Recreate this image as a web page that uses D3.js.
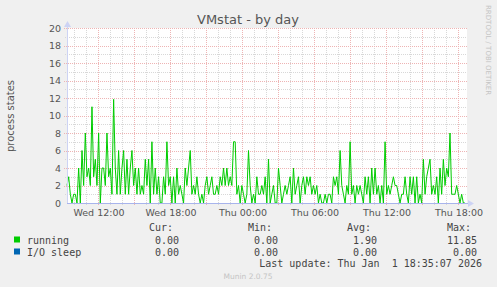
<!DOCTYPE html>
<html>
<head>
<meta charset="utf-8">
<script src="https://cdn.jsdelivr.net/npm/d3@7"></script>
<style>
  html, body { margin: 0; padding: 0; background: #f0f0f0; }
  svg { display: block; }
</style>
</head>
<body>
<svg id="chart" width="497" height="287"></svg>
<script>
// Munin vmstat, day view. Samples, evenly spaced in time.
var startTime = new Date(2025, 11, 31, 9, 25);
var endTime = new Date(2026, 0, 1, 18, 35);

var running = [
  2,3,1,0,1,1,0,4,0,6,2,8,3,4,2,11,3,5,2,8,0,4,4,2,8,3,4,1,11.85,4,1,6,1,4,6,1,5,1,4,6,
  2,4,1,4,1,2,1,5,2,5,0,7,1,4,1,3,0,0,3,1,7,2,3,0,3,0,4,1,2,1,0,4,2,4,6,1,2,1,3,1,
  0,1,0,2,3,1,2,3,1,1,2,1,3,2,4,2,4,2,3,2,7,7,1,2,0,2,1,0,1,6,2,0,1,0,3,1,
  1,2,1,3,0,5,0,1,2,0,0,4,2,0,1,2,1,2,3,0,4,1,2,3,0,2,3,1,3,2,3,1,2,1,2,0,1,0,0,1,
  0,1,1,0,3,2,3,1,6,2,1,0,2,1,7,1,2,0,2,1,2,1,0,3,1,3,0,4,1,4,1,2,0,2,0,7,1,2,1,2,
  3,2,2,1,0,1,1,3,1,0,3,1,3,0,3,0,1,0,5,1,3,4,5,1,2,1,3,0,4,1,5,2,4,3,8,1,1,1,2,1,
  0,1,0,0
];
var ioSleep = running.map(function () { return 0; });

var yTicks = [0, 2, 4, 6, 8, 10, 12, 14, 16, 18, 20];
var legendRows = [
  { name: 'running', color: '#00cc00', cur: '0.00', min: '0.00', avg: '1.90', max: '11.85' },
  { name: 'I/O sleep', color: '#0066b3', cur: '0.00', min: '0.00', avg: '0.00', max: '0.00' }
];
var legendHeads = ['Cur:', 'Min:', 'Avg:', 'Max:'];

(function () {
    var svg = d3.select('#chart');
    var left = 67, right = 467, top = 28, bottom = 203;

    var x = d3.scaleTime()
        .domain([new Date(2025, 11, 31, 9, 25), new Date(2026, 0, 1, 18, 45)])
        .range([left, right]);
    var y = d3.scaleLinear().domain([0, 20]).range([bottom, top]);

    var step = (endTime - startTime) / (running.length - 1);
    function pts(arr) {
        return arr.map(function (v, i) { return { t: new Date(+startTime + i * step), v: v }; });
    }

    // plot canvas
    svg.append('rect').attr('x', left).attr('y', top)
        .attr('width', right - left).attr('height', bottom - top).attr('fill', '#fff');

    var grid = svg.append('g').attr('shape-rendering', 'crispEdges');
    var minorT = x.ticks(d3.timeHour.every(1));
    var majorT = x.ticks(d3.timeHour.every(3));
    var labelT = x.ticks(d3.timeHour.every(6));

    // minor grid
    grid.selectAll('line.vmin').data(minorT).join('line')
        .attr('x1', function (d) { return Math.round(x(d)) + 0.5; })
        .attr('x2', function (d) { return Math.round(x(d)) + 0.5; })
        .attr('y1', top).attr('y2', bottom + 2)
        .attr('stroke', '#d8d8d8').attr('stroke-dasharray', '1,1');
    grid.selectAll('line.hmin').data(d3.range(1, 20, 2)).join('line')
        .attr('x1', left - 2).attr('x2', right)
        .attr('y1', function (d) { return Math.round(y(d)) + 0.5; })
        .attr('y2', function (d) { return Math.round(y(d)) + 0.5; })
        .attr('stroke', '#d8d8d8').attr('stroke-dasharray', '1,1');

    // major grid
    grid.selectAll('line.vmaj').data(majorT).join('line')
        .attr('x1', function (d) { return Math.round(x(d)) + 0.5; })
        .attr('x2', function (d) { return Math.round(x(d)) + 0.5; })
        .attr('y1', top).attr('y2', bottom + 3)
        .attr('stroke', '#eeb4b4').attr('stroke-dasharray', '1,1');
    grid.selectAll('line.hmaj').data(yTicks.slice(1)).join('line')
        .attr('x1', left - 3).attr('x2', right)
        .attr('y1', function (d) { return Math.round(y(d)) + 0.5; })
        .attr('y2', function (d) { return Math.round(y(d)) + 0.5; })
        .attr('stroke', '#eeb4b4').attr('stroke-dasharray', '1,1');

    // series
    var line = d3.line()
        .x(function (d) { return x(d.t); })
        .y(function (d) { return y(d.v); });
    svg.append('path').datum(pts(running))
        .attr('d', line).attr('fill', 'none')
        .attr('stroke', '#00cc00').attr('stroke-width', 1);

    // axes
    var axisCol = '#a8b4ec';
    svg.append('path').datum(pts(ioSleep))
        .attr('d', line).attr('fill', 'none')
        .attr('stroke', axisCol).attr('stroke-width', 1)
        .attr('shape-rendering', 'crispEdges');
    svg.append('line').attr('x1', left).attr('x2', 470)
        .attr('y1', bottom + 0.5).attr('y2', bottom + 0.5)
        .attr('stroke', axisCol).attr('shape-rendering', 'crispEdges');
    svg.append('line').attr('x1', left + 0.5).attr('x2', left + 0.5)
        .attr('y1', bottom).attr('y2', 24)
        .attr('stroke', '#cdd3f4').attr('shape-rendering', 'crispEdges');
    svg.append('path').attr('d', 'M468,200 L474,203.5 L468,207 Z').attr('fill', '#cdd3f4');
    svg.append('path').attr('d', 'M64,27 L67.5,21 L71,27 Z').attr('fill', '#cdd3f4');

    // tick labels
    svg.append('g').selectAll('text').data(yTicks).join('text')
        .attr('x', 61).attr('y', function (d) { return y(d) + 3.5; })
        .attr('text-anchor', 'end')
        .attr('font-family', 'DejaVu Sans').attr('font-size', 9.5).attr('fill', '#555')
        .text(function (d) { return d; });

    var fmt = d3.timeFormat('%a %H:%M');
    svg.append('g').selectAll('text').data(labelT).join('text')
        .attr('x', function (d) { return x(d) + 1; }).attr('y', 216)
        .attr('text-anchor', 'middle')
        .attr('font-family', 'DejaVu Sans').attr('font-size', 9.5).attr('fill', '#555')
        .text(function (d) { return fmt(d); });

    // title & side texts
    svg.append('text').attr('x', 248).attr('y', 24).attr('text-anchor', 'middle')
        .attr('font-family', 'DejaVu Sans').attr('font-size', 13).attr('fill', '#555')
        .text('VMstat - by day');
    svg.append('text').attr('transform', 'translate(14,116) rotate(-90)')
        .attr('text-anchor', 'middle')
        .attr('font-family', 'DejaVu Sans').attr('font-size', 10).attr('fill', '#555')
        .text('process states');
    svg.append('text').attr('transform', 'translate(486,5) rotate(90)')
        .attr('font-family', 'DejaVu Sans').attr('font-size', 7).attr('fill', '#c4c4c4')
        .text('RRDTOOL / TOBI OETIKER');

    // legend
    var mono = 'DejaVu Sans Mono';
    var colEnd = [179, 278, 377, 477];
    var lg = svg.append('g').attr('font-family', mono).attr('font-size', 10).attr('fill', '#444');
    lg.selectAll('text.head').data(legendHeads).join('text')
        .attr('x', function (d, i) { return colEnd[i] - 6; }).attr('y', 230.5)
        .attr('text-anchor', 'end').text(function (d) { return d; });

    var row = lg.selectAll('g.row').data(legendRows).join('g')
        .attr('transform', function (d, i) { return 'translate(0,' + (243.5 + i * 12) + ')'; });
    row.append('rect').attr('x', 14).attr('y', -7).attr('width', 6).attr('height', 6)
        .attr('fill', function (d) { return d.color; });
    row.append('text').attr('x', 27).text(function (d) { return d.name; });
    ['cur', 'min', 'avg', 'max'].forEach(function (k, i) {
        row.append('text').attr('x', colEnd[i]).attr('text-anchor', 'end')
            .text(function (d) { return d[k]; });
    });

    lg.append('text').attr('x', 482).attr('y', 267).attr('text-anchor', 'end')
        .attr('xml:space', 'preserve')
        .text('Last update: Thu Jan  1 18:35:07 2026');

    svg.append('text').attr('x', 248).attr('y', 279).attr('text-anchor', 'middle')
        .attr('font-family', 'DejaVu Sans').attr('font-size', 7.5).attr('fill', '#c4c4c4')
        .text('Munin 2.0.75');
})();
</script>
</body>
</html>
